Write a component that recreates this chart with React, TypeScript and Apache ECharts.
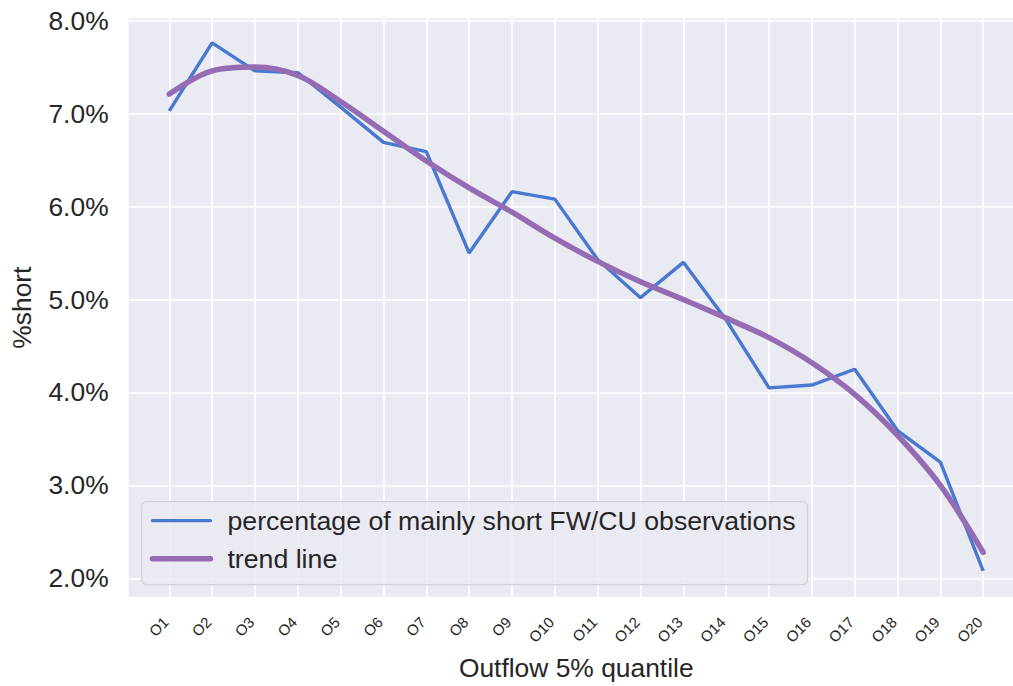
import React, { useEffect, useRef } from "react";
import * as echarts from "echarts";

const categories = ["O1", "O2", "O3", "O4", "O5", "O6", "O7", "O8", "O9", "O10", "O11", "O12", "O13", "O14", "O15", "O16", "O17", "O18", "O19", "O20"];
const shortPct = [7.03, 7.76, 7.46, 7.44, 7.07, 6.69, 6.59, 5.5, 6.16, 6.08, 5.43, 5.02, 5.4, 4.78, 4.05, 4.08, 4.25, 3.59, 3.25, 2.08];
const trendPct = [7.21, 7.46, 7.5, 7.41, 7.13, 6.81, 6.49, 6.2, 5.94, 5.66, 5.41, 5.19, 5.0, 4.8, 4.59, 4.32, 3.98, 3.54, 3.0, 2.28];
const yTicks = [2, 3, 4, 5, 6, 7, 8];

const FONT = "'Liberation Sans', Arial, sans-serif";
const TEXT = "#262626";
const BLUE = "#4878D0";
const PURPLE = "#956CB4";
const SERIES_SHORT = "percentage of mainly short FW/CU observations";
const SERIES_TREND = "trend line";

export default function App() {
  const ref = useRef<HTMLDivElement>(null);
  useEffect(() => {
    if (!ref.current) return;
    const chart = echarts.init(ref.current, undefined, { renderer: "svg" });
    const xIdx = categories.map((_, i) => i);
    chart.setOption({
      animation: false,
      textStyle: { fontFamily: FONT, color: TEXT },
      grid: {
        left: 128.6,
        top: 18.3,
        right: 6.1,
        bottom: 88,
        show: true,
        backgroundColor: "#EAEAF2",
        borderWidth: 0,
        containLabel: false,
      },
      legend: {
        orient: "vertical",
        left: 141.7,
        top: 501.7,
        padding: [4, 12, 11, 8],
        itemGap: 8,
        itemWidth: 58,
        itemHeight: 14,
        backgroundColor: "rgba(234,234,242,0.8)",
        borderColor: "rgba(204,204,204,0.8)",
        borderWidth: 1.3,
        borderRadius: 5,
        itemStyle: { opacity: 0, color: "transparent", borderWidth: 0 },
        textStyle: { fontSize: 26.7, lineHeight: 30, color: TEXT, fontFamily: FONT, padding: [0, 0, 0, 12] },
        data: [
          { name: SERIES_SHORT, lineStyle: { color: BLUE, width: 3.3, cap: "round" } },
          { name: SERIES_TREND, lineStyle: { color: PURPLE, width: 5.5, cap: "round" } },
        ],
      },
      xAxis: {
        type: "value",
        min: -0.95,
        max: 19.95,
        name: "Outflow 5% quantile",
        nameLocation: "middle",
        nameGap: 58,
        nameTextStyle: { fontSize: 26.4, color: TEXT, fontFamily: FONT },
        axisLine: { show: false },
        axisTick: { show: false },
        splitLine: { show: false },
        axisLabel: {
          customValues: xIdx,
          rotate: 45,
          margin: 19,
          fontSize: 15,
          color: TEXT,
          fontFamily: FONT,
          padding: [0, 5, 0, 0],
          formatter: (v: number) => categories[Math.round(v)] ?? "",
        },
      },
      yAxis: {
        type: "value",
        min: 1.8,
        max: 8.025,
        name: "%short",
        nameLocation: "middle",
        nameGap: 94,
        nameTextStyle: { fontSize: 26.4, color: TEXT, fontFamily: FONT },
        axisLine: { show: false },
        axisTick: { show: false },
        splitLine: { show: false },
        axisLabel: {
          customValues: yTicks,
          margin: 20,
          fontSize: 26.4,
          color: TEXT,
          fontFamily: FONT,
          formatter: (v: number) => v.toFixed(1) + "%",
        },
      },
      series: [
        {
          name: SERIES_SHORT,
          type: "line",
          data: shortPct.map((v, i) => [i, v]),
          symbol: "none",
          z: 3,
          color: BLUE,
          lineStyle: { color: BLUE, width: 3.4 },
          markLine: {
            z: 1,
            silent: true,
            symbol: ["none", "none"],
            label: { show: false },
            lineStyle: { color: "#FFFFFF", width: 1.6, type: "solid" },
            emphasis: { disabled: true },
            data: [
              ...yTicks.map((v) => ({ yAxis: v })),
              ...xIdx.map((v) => ({ xAxis: v })),
            ],
          },
        },
        {
          name: SERIES_TREND,
          type: "line",
          data: trendPct.map((v, i) => [i, v]),
          symbol: "none",
          smooth: 0.35,
          z: 4,
          color: PURPLE,
          lineStyle: { color: PURPLE, width: 5.5, cap: "round" },
        },
      ],
    });
    return () => chart.dispose();
  }, []);
  return (
    <div style={{ position: "absolute", left: 0, top: 0, width: 1013, height: 686, overflow: "hidden", background: "#fff" }}>
      <div ref={ref} style={{ width: 1030, height: 686 }} />
    </div>
  );
}
